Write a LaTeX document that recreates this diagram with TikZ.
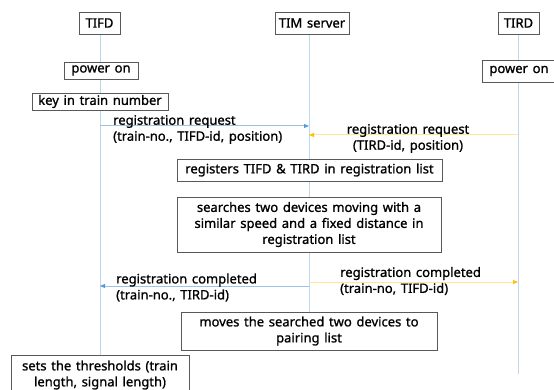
\documentclass[tikz,border=0pt]{standalone}
\usepackage{fontspec}
\setmainfont{Noto Sans}[FakeBold=1.1]
\usetikzlibrary{arrows.meta}
\definecolor{lifec}{HTML}{BDD7EE}
\definecolor{boxc}{HTML}{595959}
\definecolor{blueline}{HTML}{9DC3E6}
\definecolor{bluehead}{HTML}{5B9BD5}
\definecolor{yelline}{HTML}{FFE699}
\definecolor{yelhead}{HTML}{FFC000}
\newcommand{\diagfont}{\fontsize{13}{16}\selectfont\spaceskip=0.36em plus 0.1em minus 0.05em\relax}
\begin{document}
\begin{tikzpicture}[x=1pt,y=-1pt,
  every node/.style={font=\diagfont},
  actbox/.style={draw=boxc,line width=0.8pt,fill=white,inner sep=0pt,align=center},
  life/.style={draw=lifec,line width=1pt},
  bluemsg/.style={draw=blueline,line width=1pt,-{Triangle[length=5pt,width=4pt,color=bluehead]}},
  yelmsg/.style={draw=yelline,line width=1pt,-{Triangle[length=5pt,width=4pt,color=yelhead]}},
  lbl/.style={inner sep=0pt}]
\useasboundingbox (0,0) rectangle (554,390);
% lifelines
\coordinate (l1t) at (100,34); \coordinate (l1b) at (100,355);
\coordinate (l2t) at (309,34); \coordinate (l2b) at (309,312);
\coordinate (l3t) at (518,34); \coordinate (l3b) at (518,374);
\draw[life] (l1t) -- (l1b);
\draw[life] (l2t) -- (l2b);
\draw[life] (l3t) -- (l3b);
% headers
\node[actbox,minimum width=41pt,minimum height=22pt] (tifd) at (99.5,23) {TIFD};
\node[actbox,minimum width=74pt,minimum height=22pt] (tim) at (312,23) {TIM server};
\node[actbox,minimum width=41pt,minimum height=22pt] (tird) at (518.5,23) {TIRD};
% boxes
\node[actbox,minimum width=74pt,minimum height=17pt] (pon1) at (101,70.5) {power on};
\node[actbox,minimum width=136pt,minimum height=17pt] (key) at (100,101.5) {key in train number};
\node[actbox,minimum width=74pt,minimum height=22pt] (pon2) at (519,71) {power on};
\node[actbox,minimum width=265pt,minimum height=22pt] (reg) at (309.5,170) {registers TIFD \& TIRD in registration list};
\node[actbox,minimum width=264pt,minimum height=55pt] (search) at (309,224.5) {searches two devices moving with a\\similar speed and a fixed distance in\\registration list};
\node[actbox,minimum width=256pt,minimum height=38pt] (moves) at (309,331) {moves the searched two devices to\\pairing list};
\node[actbox,minimum width=178pt,minimum height=40pt] (sets) at (100,375) {sets the thresholds (train\\length, signal length)};
% messages
\coordinate (m1s) at (100,126); \coordinate (m1e) at (309,126);
\coordinate (m2s) at (518,135); \coordinate (m2e) at (309,135);
\coordinate (m3s) at (309,286); \coordinate (m3e) at (100,286);
\coordinate (m4s) at (309,282); \coordinate (m4e) at (518,282);
\draw[bluemsg] (m1s) -- (m1e);
\draw[yelmsg] (m2s) -- (m2e);
\draw[bluemsg] (m3s) -- (m3e);
\draw[yelmsg] (m4s) -- (m4e);
\node[lbl,anchor=west,align=left] (t1) at (113,129.5) {registration request\\(train-no., TIFD-id, position)};
\node[lbl,align=center] (t2) at (408,138.5) {registration request\\(TIRD-id, position)};
\node[lbl,anchor=west,align=left] (t3) at (116,287.5) {registration completed\\(train-no., TIRD-id)};
\node[lbl,anchor=west,align=left] (t4) at (340,281) {registration completed\\(train-no, TIFD-id)};
\end{tikzpicture}
\end{document}
